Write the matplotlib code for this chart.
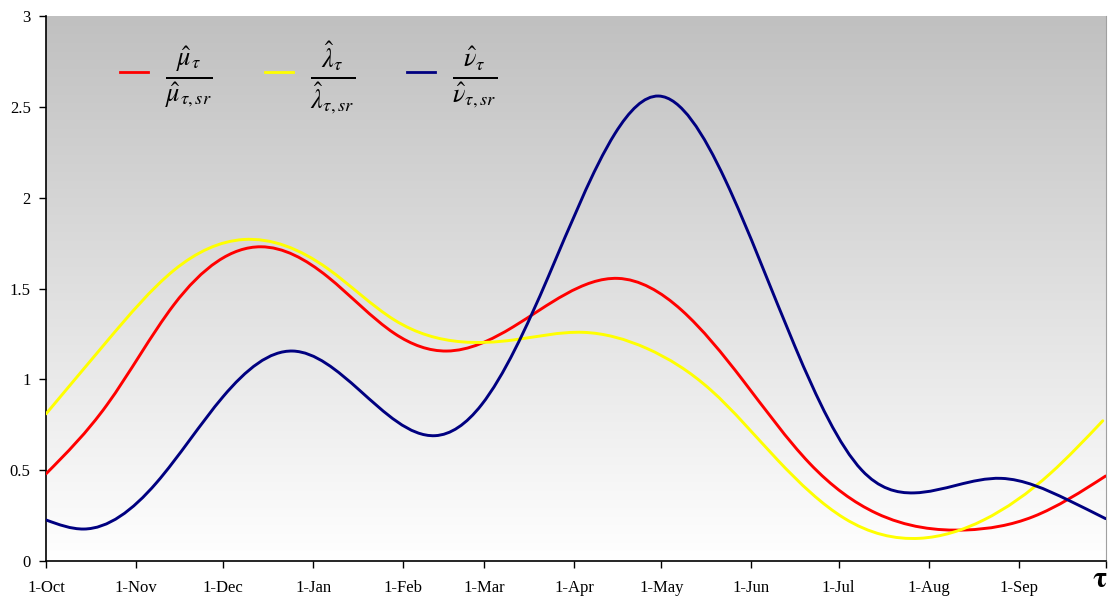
import matplotlib
matplotlib.use('Agg')
import matplotlib.pyplot as plt
import numpy as np
from matplotlib.path import Path
from matplotlib.patches import PathPatch
from matplotlib.lines import Line2D
from matplotlib.colors import LinearSegmentedColormap

# days since 1-Oct
mu_days = [0, 21, 44, 74, 97, 120, 138, 161, 197, 219, 240, 263, 286, 317, 340, 365]
mu_vals = [0.48, 0.86, 1.41, 1.73, 1.565, 1.253, 1.156, 1.29, 1.556, 1.38, 0.996,
           0.538, 0.263, 0.171, 0.244, 0.468]

lam_days = [0, 21, 44, 68, 97, 120, 143, 161, 185, 207, 229, 252, 275, 301, 323, 346, 364]
lam_vals = [0.81, 1.21, 1.60, 1.77, 1.61, 1.327, 1.207, 1.217, 1.259, 1.17, 0.941,
            0.556, 0.235, 0.125, 0.226, 0.483, 0.772]

nu_days = [0, 13, 38, 61, 85, 108, 134, 150, 173, 196, 211, 234, 258, 281, 299, 329,
           352, 365]
nu_vals = [0.226, 0.176, 0.43, 0.905, 1.156, 0.94, 0.69, 0.86, 1.565, 2.354, 2.56,
           2.097, 1.18, 0.50, 0.375, 0.455, 0.336, 0.233]

month_labels = ['1-Oct', '1-Nov', '1-Dec', '1-Jan', '1-Feb', '1-Mar', '1-Apr',
                '1-May', '1-Jun', '1-Jul', '1-Aug', '1-Sep']
month_lengths = [31, 30, 31, 31, 28, 31, 30, 31, 30, 31, 31, 30]

labels = [r'$\frac{\hat{\mu}_{\tau}}{\hat{\mu}_{\tau,sr}}$',
          r'$\frac{\hat{\lambda}_{\tau}}{\hat{\lambda}_{\tau,sr}}$',
          r'$\frac{\hat{\nu}_{\tau}}{\hat{\nu}_{\tau,sr}}$']
colors = ['#ff0000', '#ffff00', '#000080']

plt.rcParams['font.family'] = ['Liberation Serif', 'DejaVu Serif']
plt.rcParams['mathtext.fontset'] = 'stix'


def smooth_path(xs, ys):
    # natural cubic spline through the points, drawn as bezier segments
    x = np.asarray(xs, float)
    y = np.asarray(ys, float)
    n = len(x)
    h = np.diff(x)
    s = np.diff(y) / h
    A = np.zeros((n, n))
    b = np.zeros(n)
    A[0, 0] = A[-1, -1] = 1
    for i in range(1, n - 1):
        A[i, i - 1] = h[i - 1]
        A[i, i] = 2 * (h[i - 1] + h[i])
        A[i, i + 1] = h[i]
        b[i] = 6 * (s[i] - s[i - 1])
    M = np.linalg.solve(A, b)
    m = np.empty(n)
    m[:-1] = s - h * (2 * M[:-1] + M[1:]) / 6
    m[-1] = s[-1] + h[-1] * (M[-2] + 2 * M[-1]) / 6
    verts = [(x[0], y[0])]
    codes = [Path.MOVETO]
    for i in range(n - 1):
        verts += [(x[i] + h[i] / 3, y[i] + m[i] * h[i] / 3),
                  (x[i + 1] - h[i] / 3, y[i + 1] - m[i + 1] * h[i] / 3),
                  (x[i + 1], y[i + 1])]
        codes += [Path.CURVE4] * 3
    return Path(verts, codes)


fig = plt.figure(figsize=(11.09, 5.97), dpi=100)
ax = fig.add_axes([0.0415, 0.0603, 0.9555, 0.9127])

# grey-to-white gradient in the plot area
grad = np.linspace(1.0, 0.0, 256).reshape(-1, 1)
ax.imshow(grad, cmap=LinearSegmentedColormap.from_list('g', ['#ffffff', '#c0c0c0']),
          aspect='auto', extent=[0, 1, 0, 1], transform=ax.transAxes, zorder=0,
          interpolation='bicubic')

series = [(mu_days, mu_vals), (lam_days, lam_vals), (nu_days, nu_vals)]
for (d, v), c in zip(series, colors):
    ax.add_patch(PathPatch(smooth_path(d, v), fill=False, edgecolor=c,
                           linewidth=2.1, zorder=3, capstyle='round'))

ticks = np.concatenate([[0], np.cumsum(month_lengths)])
ax.set_xlim(0, 365)
ax.set_ylim(0, 3)
ax.set_xticks(ticks)
ax.set_xticklabels(month_labels + [''])
ax.set_yticks(np.arange(0, 3.01, 0.5))
ax.set_yticklabels(['0', '0.5', '1', '1.5', '2', '2.5', '3'])
ax.tick_params(axis='both', direction='out', length=5, width=1, labelsize=12,
               colors='black')
ax.tick_params(axis='x', pad=9)
ax.tick_params(axis='y', pad=6)
ax.text(0.994, -0.035, r'$\mathbf{\tau}$', transform=ax.transAxes, ha='center',
        va='center', fontsize=21)

ax.spines['top'].set_visible(False)
ax.spines['right'].set_color('#a0a0a0')
ax.spines['right'].set_linewidth(0.8)
ax.spines['left'].set_linewidth(1.2)
ax.spines['bottom'].set_linewidth(1.2)

handles = [Line2D([], [], color=c, linewidth=2.0) for c in colors]
ax.legend(handles, labels, loc='center left', bbox_to_anchor=(0.0698, 0.888),
          ncol=3, frameon=False, fontsize=27, handlelength=0.75,
          handletextpad=0.45, columnspacing=1.4, borderpad=0, borderaxespad=0)

fig.savefig('out.png', dpi=100)
